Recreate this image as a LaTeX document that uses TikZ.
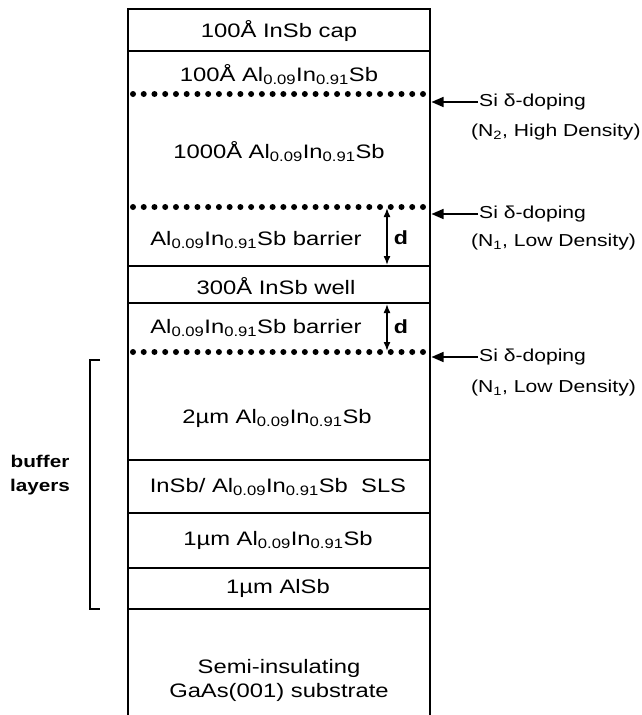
\documentclass[tikz,border=0pt]{standalone}
\usepackage{fontspec}
\setmainfont[FakeStretch=1.22]{Liberation Sans}
\usetikzlibrary{arrows.meta}
\newcommand\AIS{Al\textsubscript{0.09}In\textsubscript{0.91}Sb}
\begin{document}
\begin{tikzpicture}[x=1pt,y=-1pt,
  lay/.style={inner sep=0pt, font=\fontsize{19.5}{23}\selectfont},
  side/.style={inner sep=1pt, anchor=west, font=\fontsize{17.3}{21}\selectfont},
  sepline/.style={line width=1.4pt},
  dotrow/.style={line width=6pt, line cap=round, dash pattern=on 0pt off 10.74pt},
  darrow/.style={line width=1.5pt, {Latex[length=9pt,width=7pt]}-{Latex[length=9pt,width=7pt]}},
  sarrow/.style={line width=1.6pt, -{Triangle[length=12pt,width=10pt]}}]
\useasboundingbox (0,0) rectangle (641,715);
% outline
\draw[line width=2pt] (128,715) -- (128,9) -- (430,9);
\draw[line width=2.3pt] (430,8) -- (430,715);
% separators
\foreach \yy in {51,266,303,460,513,568}
  \draw[sepline] (128,\yy) -- (430,\yy);
\draw[line width=1.9pt] (128,609) -- (430,609);
% delta doping rows
\foreach \yy in {94,207,352}
  \draw[dotrow] (133,\yy) -- (423.5,\yy);
% layer labels
\node[lay] (cap) at (279,31) {100Å InSb cap};
\node[lay] (l2) at (279,75) {100Å \AIS};
\node[lay] (l3) at (279,152) {1000Å \AIS};
\node[lay] (b1) at (256,240) {\AIS{} barrier};
\node[lay] (well) at (276,286) {300Å InSb well};
\node[lay] (b2) at (256,328) {\AIS{} barrier};
\node[lay] (buf2) at (277,418) {2µm \AIS};
\node[lay] (sls) at (278,487) {InSb/ \AIS\ \ SLS};
\node[lay] (buf1) at (278,540) {1µm \AIS};
\node[lay] (alsb) at (278,588) {1µm AlSb};
\node[lay, align=center, font=\fontsize{19.5}{24}\selectfont] (sub) at (279,680) {Semi-insulating\\GaAs(001) substrate};
% d arrows
\coordinate (d1t) at (387,208);
\coordinate (d1b) at (387,265);
\coordinate (d2t) at (387,304);
\coordinate (d2b) at (387,351);
\draw[darrow] (d1t) -- (d1b);
\draw[darrow] (d2t) -- (d2b);
\node[lay, font=\fontsize{19}{23}\bfseries] (dl1) at (401,238) {d};
\node[lay, font=\fontsize{19}{23}\bfseries] (dl2) at (401,327) {d};
% side labels
\node[side] (s1) at (478,102) {Si δ-doping};
\node[side] (n1) at (470,132) {(N\textsubscript{2}, High Density)};
\node[side] (s2) at (478,214) {Si δ-doping};
\node[side] (n2) at (470,242) {(N\textsubscript{1}, Low Density)};
\node[side] (s3) at (478,357) {Si δ-doping};
\node[side] (n3) at (470,388) {(N\textsubscript{1}, Low Density)};
\coordinate (e1) at (431.5,102);
\coordinate (e2) at (431.5,214);
\coordinate (e3) at (431.5,357);
\draw[sarrow] (s1.west) -- (e1);
\draw[sarrow] (s2.west) -- (e2);
\draw[sarrow] (s3.west) -- (e3);
% bracket
\draw[line width=1.3pt] (100,360) -- (90,360) -- (90,609) -- (100,609);
\node[inner sep=0pt, align=center, font=\fontsize{17}{24}\bfseries] (buf) at (40,475) {buffer\\layers};
\end{tikzpicture}
\end{document}
